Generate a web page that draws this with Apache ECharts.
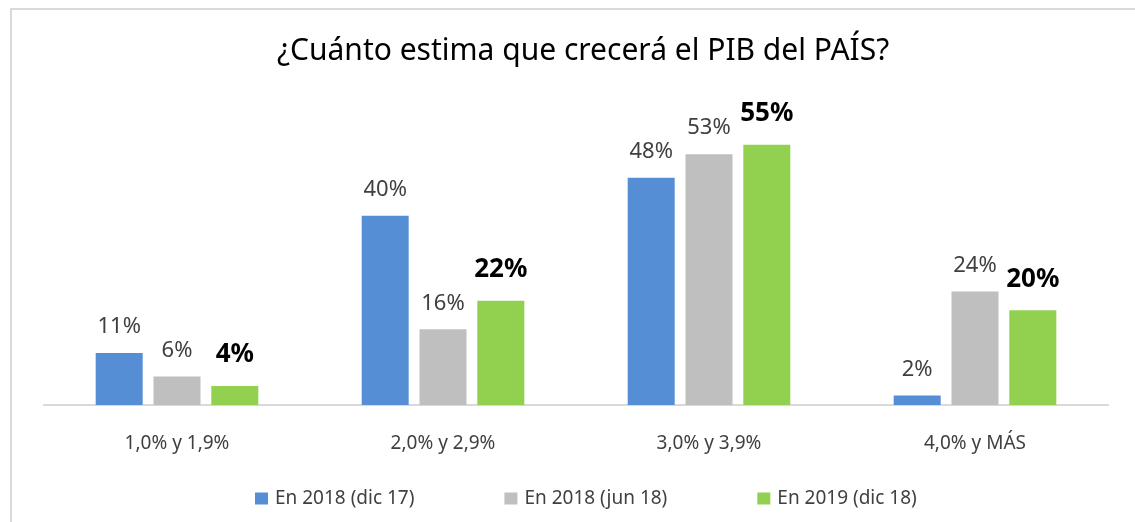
<!DOCTYPE html>
<html>
<head>
<meta charset="utf-8">
<script src="https://cdn.jsdelivr.net/npm/echarts@6/dist/echarts.min.js"></script>
<style>
  html, body { margin: 0; padding: 0; background: #fff; }
  #frame {
    position: absolute; left: 10px; top: 8px;
    width: 1140px; height: 530px;
    border: 2px solid #d9d9d9;
  }
  #chart { position: absolute; left: 0; top: 0; width: 1135px; height: 522px; }
</style>
</head>
<body>
<div id="frame"></div>
<div id="chart"></div>
<script>
// datos
const categorias = ['1,0% y 1,9%', '2,0% y 2,9%', '3,0% y 3,9%', '4,0% y MÁS'];
const series = ['En 2018 (dic 17)', 'En 2018 (jun 18)', 'En 2019 (dic 18)'];
const dic17 = [11, 40, 48, 2];
const jun18 = [6, 16, 53, 24];
const dic18 = [4, 22, 55, 20];

const fuente = 'Noto Sans';
const colores = ['#558ed5', '#bfbfbf', '#92d050'];

let chart = echarts.init(document.getElementById('chart'));

function serie(name, data, idx, destacada) {
  return {
    name: name,
    type: 'bar',
    data: data,
    barWidth: 47,
    barGap: '23%',
    itemStyle: { color: colores[idx] },
    label: {
      show: true,
      position: 'top',
      distance: destacada ? 18 : 15,
      formatter: '{c}%',
      fontFamily: fuente,
      fontSize: destacada ? 26 : 22,
      fontWeight: destacada ? 'bold' : 'normal',
      color: destacada ? '#000' : '#404040'
    }
  };
}

let option = {
  animation: false,
  title: {
    text: '¿Cuánto estima que crecerá el PIB del PAÍS?',
    left: 272,
    top: 31,
    textStyle: { fontFamily: fuente, fontSize: 30, fontWeight: 'normal', color: '#000' }
  },
  legend: {
    top: 484,
    left: 250,
    itemWidth: 13,
    itemHeight: 12,
    itemGap: 90,
    icon: 'rect',
    textStyle: { fontFamily: fuente, fontSize: 19, color: '#404040', padding: [0, 0, 0, 2] }
  },
  grid: { left: 44, right: 27, top: 121, bottom: 117 },
  xAxis: {
    type: 'category',
    data: categorias,
    axisLine: { lineStyle: { color: '#d9d9d9', width: 2 } },
    axisTick: { show: false },
    axisLabel: { fontFamily: fuente, fontSize: 19, color: '#404040', margin: 29 }
  },
  yAxis: {
    type: 'value',
    min: 0,
    max: 60,
    show: false,
    splitLine: { show: false }
  },
  series: [
    serie(series[0], dic17, 0, false),
    serie(series[1], jun18, 1, false),
    serie(series[2], dic18, 2, true)
  ]
};
chart.setOption(option);
</script>
</body>
</html>
